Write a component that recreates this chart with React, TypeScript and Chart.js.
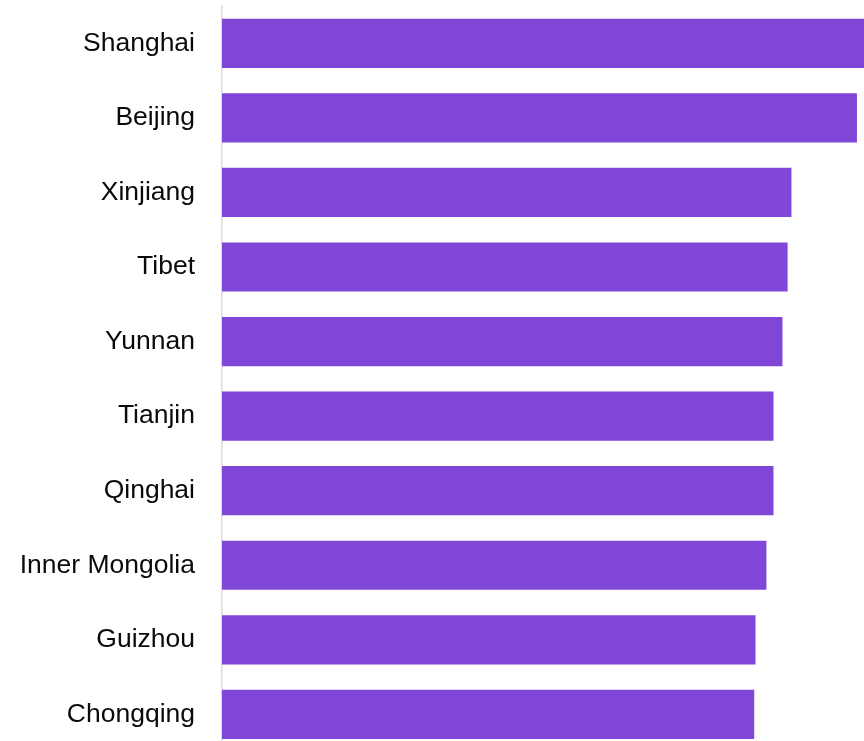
import React, { useEffect, useRef } from "react";
import { Chart, registerables } from "chart.js";

Chart.register(...registerables);

const categories = [
  "Shanghai",
  "Beijing",
  "Xinjiang",
  "Tibet",
  "Yunnan",
  "Tianjin",
  "Qinghai",
  "Inner Mongolia",
  "Guizhou",
  "Chongqing",
];
const values = [100, 98.9, 88.7, 88.1, 87.3, 85.9, 85.9, 84.8, 83.1, 82.9];
const xMin = 0;
const xMax = 100;

export default function App() {
  const ref = useRef<HTMLCanvasElement | null>(null);
  useEffect(() => {
    if (!ref.current) return;
    const chart = new Chart(ref.current, {
      type: "bar",
      data: {
        labels: categories,
        datasets: [
          {
            data: values,
            backgroundColor: "#8046D8",
            borderWidth: 0,
            categoryPercentage: 1,
            barPercentage: 0.66,
          },
        ],
      },
      options: {
        indexAxis: "y",
        responsive: false,
        animation: false,
        layout: { padding: { top: 6, right: 0, bottom: 0, left: 0 } },
        plugins: { legend: { display: false }, tooltip: { enabled: false } },
        scales: {
          x: { display: false, min: xMin, max: xMax },
          y: {
            afterFit: (scale: any) => {
              scale.width = 222;
            },
            grid: { display: false, drawTicks: true, tickLength: 27 },
            border: { display: true, color: "#dcdcdc", width: 1.5 },
            ticks: {
              color: "#0a0a0a",
              padding: 0,
              labelOffset: 0,
              font: {
                family: "Arial, 'Liberation Sans', Helvetica, sans-serif",
                size: 26.5,
                lineHeight: 0.1,
              },
            },
          },
        },
      },
    });
    return () => chart.destroy();
  }, []);
  return (
    <div
      style={{
        position: "fixed",
        left: 0,
        top: 0,
        width: 864,
        height: 741,
        overflow: "hidden",
        background: "#fff",
      }}
    >
      <canvas ref={ref} width={864} height={753} style={{ display: "block" }} />
    </div>
  );
}
